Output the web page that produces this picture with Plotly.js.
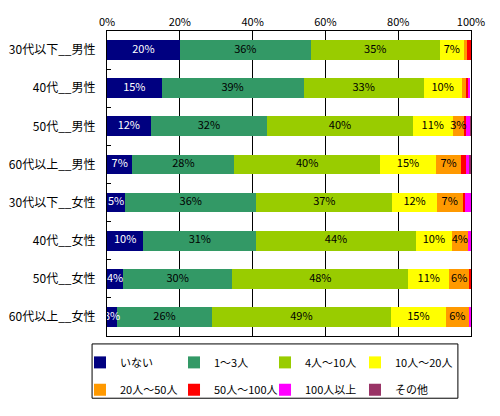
<!DOCTYPE html>
<html><head><meta charset="utf-8">
<script src="https://cdn.plot.ly/plotly-3.0.1.min.js"></script>
<style>html,body{margin:0;padding:0;background:#fff;}#chart{width:500px;height:416px;}</style>
</head><body><div id="chart"></div>
<script>
const categories = ["30代以下__男性","40代__男性","50代__男性","60代以上__男性","30代以下__女性","40代__女性","50代__女性","60代以上__女性"];
const seriesNames = ["いない","1～3人","4人～10人","10人～20人","20人～50人","50人～100人","100人以上","その他"];
const seriesColors = ["#000080","#339966","#99CC00","#FFFF00","#FF9900","#FF0000","#FF00FF","#993366"];
const none    = [20.0, 15.0, 12.0,  7.0,  5.0, 10.0,  4.4,  2.8];
const s1to3   = [36.0, 39.0, 32.0, 28.0, 36.0, 31.0, 30.0, 26.0];
const s4to10  = [35.4, 33.0, 40.0, 40.0, 37.4, 43.8, 48.4, 49.2];
const s10to20 = [ 6.7, 10.4, 11.0, 15.4, 12.2, 10.0, 11.2, 15.1];
const s20to50 = [ 0.9,  1.2,  3.0,  6.9,  7.1,  4.3,  5.5,  6.3];
const s50to100= [ 0.9,  0.6,  0.7,  1.2,  0.6,  0.0,  0.5,  0.0];
const s100plus= [ 0.1,  0.5,  1.0,  0.9,  1.7,  0.9,  0.0,  0.6];
const other   = [ 0.0,  0.0,  0.3,  0.5,  0.0,  0.0,  0.0,  0.0];
const series = [none, s1to3, s4to10, s10to20, s20to50, s50to100, s100plus, other];
const xTicks = [0,20,40,60,80,100];

const font = '"Noto Sans CJK JP", "DejaVu Sans", sans-serif';
const legendIds = ['legend','legend2','legend3','legend4','legend5','legend6','legend7','legend8'];
const traces = [];
series.forEach((vals, i) => {
  traces.push({
    type: 'bar', orientation: 'h', name: seriesNames[i],
    x: vals, y: categories,
    marker: {color: seriesColors[i], line: {width: 0}},
    legend: legendIds[i],
    hoverinfo: 'skip'
  });
});
// labels at segment centers
const cum = categories.map(() => 0);
const lx = [[],[]], ly = [[],[]], lt = [[],[]];
series.forEach((vals, i) => {
  vals.forEach((v, j) => {
    const mid = cum[j] + v / 2;
    cum[j] += v;
    if (Math.round(v) >= 3) {
      const k = i === 0 ? 0 : 1;
      lx[k].push(mid); ly[k].push(categories[j]); lt[k].push(Math.round(v) + '%');
    }
  });
});
[0,1].forEach(k => {
  traces.push({
    type: 'scatter', mode: 'text', x: lx[k], y: ly[k], text: lt[k],
    textposition: 'middle center',
    textfont: {family: font, size: 11, color: k === 0 ? '#ffffff' : '#000000'},
    showlegend: false, hoverinfo: 'skip', cliponaxis: false
  });
});

const legendCols = [-0.0742, 0.1841, 0.4341, 0.6813];
const legendRows = [-0.039, -0.129];
const layout = {
  width: 500, height: 416,
  margin: {l: 107, r: 29, t: 31, b: 76},
  paper_bgcolor: '#fff', plot_bgcolor: '#fff',
  barmode: 'stack', bargap: 0.48,
  font: {family: font, size: 12, color: '#000'},
  xaxis: {
    side: 'top', range: [0, 100], tickvals: xTicks, ticktext: xTicks.map(t => t + '%'),
    showgrid: true, gridcolor: '#000', gridwidth: 1,
    showline: true, mirror: true, linecolor: '#000', linewidth: 1,
    ticks: '', tickfont: {size: 11, family: font}, zeroline: false, fixedrange: true
  },
  yaxis: {
    type: 'category', autorange: 'reversed',
    showline: true, mirror: true, linecolor: '#000', linewidth: 1,
    ticks: 'inside', tickson: 'boundaries', ticklen: 4, tickcolor: '#000',
    ticklabelstandoff: 8,
    tickfont: {size: 12, family: font}, showgrid: false, fixedrange: true
  },
  showlegend: true,
  shapes: [{
    type: 'rect', xref: 'paper', yref: 'paper',
    x0: -0.041, x1: 0.964, y0: -0.026, y1: -0.204,
    line: {color: '#000', width: 1}, fillcolor: 'rgba(0,0,0,0)', layer: 'above'
  }]
};
legendIds.forEach((id, i) => {
  layout[id] = {
    orientation: 'v', xanchor: 'left', yanchor: 'top',
    x: legendCols[i % 4], y: legendRows[Math.floor(i / 4)],
    borderwidth: 0, bgcolor: 'rgba(0,0,0,0)',
    font: {size: 11, family: font}, itemwidth: 30
  };
});
Plotly.newPlot('chart', traces, layout, {displayModeBar: false, staticPlot: true});
</script></body></html>
